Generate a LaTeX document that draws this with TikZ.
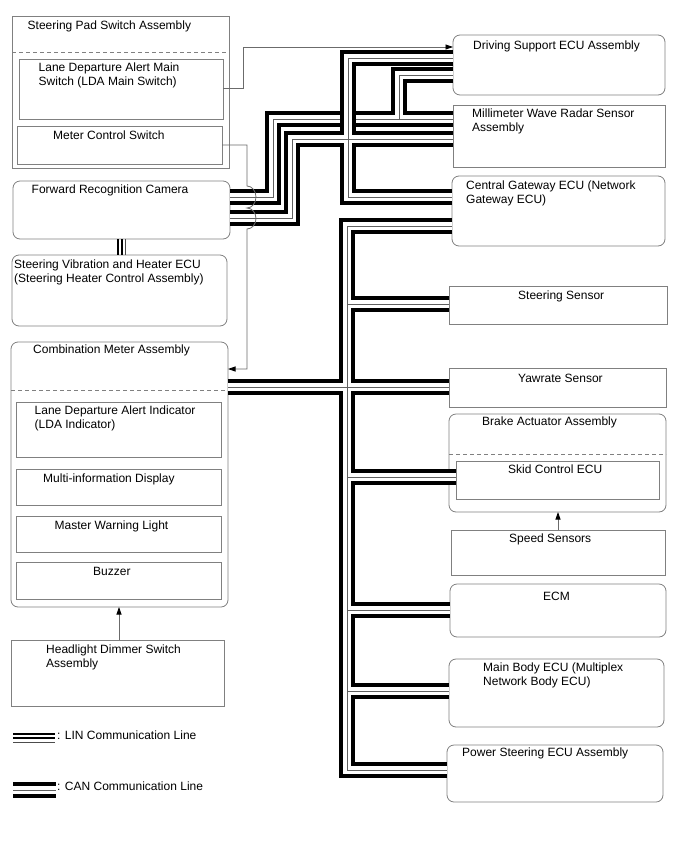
\documentclass[tikz,border=0pt]{standalone}
\usepackage{fontspec}
\setmainfont{Liberation Sans}
\usetikzlibrary{arrows.meta,calc}
\definecolor{boxgray}{gray}{0.5}
\definecolor{linegray}{gray}{0.42}
\newcommand\pairnet[1]{\draw[canA] #1; \draw[canB] #1; \draw[canC] #1;}
\newcommand\twol[2]{\vtop{\hbox{#1}\hbox{#2}}}
\begin{document}
\begin{tikzpicture}[x=1pt,y=-1pt,
  box/.style={draw=boxgray,line width=0.8pt,anchor=north west,inner sep=0pt,outer sep=0pt,fill=white},
  rbox/.style={box,rounded corners=7pt},
  lbl/.style={anchor=base west,inner sep=0pt,font=\fontsize{12}{14}\selectfont},
  dashsep/.style={draw=boxgray,line width=0.8pt,dash pattern=on 4pt off 3pt},
  thinarrow/.style={draw=linegray,line width=0.8pt,-{Triangle[length=7.5pt,width=5pt,fill=black,color=black]}},
  canA/.style={line width=16pt,draw=black,line join=miter,line cap=butt},
  canB/.style={line width=8.5pt,draw=white,line join=miter,line cap=butt},
  canC/.style={line width=1pt,draw=gray!75!black,line join=miter,line cap=butt},
  linthick/.style={line width=2.8pt,draw=black},
  linthin/.style={line width=1pt,draw=gray!60!black}]
\useasboundingbox (0,0) rectangle (688,852);
\fill[white] (0,0) rectangle (688,852);

% ---------- left column ----------
\node[box,minimum width=217pt,minimum height=152pt] (spsa) at (12,16) {};
\draw[dashsep] (spsa.west |- 0,52) -- (spsa.east |- 0,52);
\node[box,minimum width=204pt,minimum height=60pt] (ldams) at (19,59) {};
\node[box,minimum width=205pt,minimum height=38pt] (mcs) at (17,126) {};
\node[rbox,minimum width=217pt,minimum height=58pt] (cam) at (13,181) {};
\node[rbox,minimum width=215pt,minimum height=71pt] (svh) at (12,255) {};
\node[rbox,minimum width=217pt,minimum height=265pt] (cma) at (11,342) {};
\draw[dashsep] (cma.west |- 0,390) -- (cma.east |- 0,390);
\node[box,minimum width=205pt,minimum height=55pt] (ldai) at (16,402) {};
\node[box,minimum width=205pt,minimum height=36pt] (mid) at (16,469) {};
\node[box,minimum width=205pt,minimum height=36pt] (mwl) at (16,516) {};
\node[box,minimum width=205pt,minimum height=37pt] (buz) at (16,562) {};
\node[box,minimum width=213pt,minimum height=66pt] (hds) at (11,640) {};

% ---------- right column ----------
\node[rbox,minimum width=212pt,minimum height=60pt] (ds) at (453,35) {};
\node[box,minimum width=212pt,minimum height=62pt] (mwr) at (453,105) {};
\node[rbox,minimum width=213pt,minimum height=70pt] (gw) at (452,176) {};
\node[box,minimum width=218pt,minimum height=38pt] (ss) at (449,286) {};
\node[box,minimum width=217pt,minimum height=39pt] (yaw) at (449,368) {};
\node[rbox,minimum width=217pt,minimum height=98pt] (baa) at (449,414) {};
\draw[dashsep] (baa.west |- 0,454) -- (baa.east |- 0,454);
\node[box,minimum width=203pt,minimum height=38pt] (sce) at (456,461) {};
\node[box,minimum width=214pt,minimum height=45pt] (spd) at (451,530) {};
\node[rbox,minimum width=216pt,minimum height=53pt] (ecm) at (450,584) {};
\node[rbox,minimum width=215pt,minimum height=68pt] (mbe) at (449,659) {};
\node[rbox,minimum width=216pt,minimum height=57pt] (pse) at (447,745) {};

% ---------- labels ----------
\node[lbl] (t1) at (27.5,29) {Steering Pad Switch Assembly};
\node[lbl] (t2) at (38.5,71.5) {\twol{Lane Departure Alert Main}{Switch (LDA Main Switch)}};
\node[lbl] (t3) at (53,139.2) {Meter Control Switch};
\node[lbl] (t4) at (31.5,193.2) {Forward Recognition Camera};
\node[lbl] (t5) at (14,268.9) {\twol{Steering Vibration and Heater ECU}{(Steering Heater Control Assembly)}};
\node[lbl] (t6) at (33,353.2) {Combination Meter Assembly};
\node[lbl] (t7) at (34.5,414.9) {\twol{Lane Departure Alert Indicator}{(LDA Indicator)}};
\node[lbl] (t8) at (43,482.2) {Multi-information Display};
\node[lbl] (t9) at (54.5,529.9) {Master Warning Light};
\node[lbl] (t10) at (93,575.9) {Buzzer};
\node[lbl] (t11) at (46,653) {\twol{Headlight Dimmer Switch}{Assembly}};
\node[lbl] (t12) at (473,49) {Driving Support ECU Assembly};
\node[lbl] (t13) at (472,117) {\twol{Millimeter Wave Radar Sensor}{Assembly}};
\node[lbl] (t14) at (466,189) {\twol{Central Gateway ECU (Network}{Gateway ECU)}};
\node[lbl] (t15) at (518,299.9) {Steering Sensor};
\node[lbl] (t16) at (518,382.2) {Yawrate Sensor};
\node[lbl] (t17) at (482,425.5) {Brake Actuator Assembly};
\node[lbl] (t18) at (508,473.2) {Skid Control ECU};
\node[lbl] (t19) at (509,542.2) {Speed Sensors};
\node[lbl] (t20) at (543,600.5) {ECM};
\node[lbl] (t21) at (483,671.5) {\twol{Main Body ECU (Multiplex}{Network Body ECU)}};
\node[lbl] (t22) at (462,756.5) {Power Steering ECU Assembly};

% ---------- CAN networks ----------
% camera upper pair -> radar, with DS ECU branch
\pairnet{(cam.east |- 0,197) -- (273,197) -- (273,119) -- (mwr.west |- 0,119)
         (ds.west |- 0,75) -- (399,75) -- (399,119)}
% DS ECU -> gateway, camera lower pair, radar
\pairnet{(ds.west |- 0,58) -- (348,58) -- (348,197) -- (gw.west |- 0,197)
         (cam.east |- 0,218) -- (292,218) -- (292,139) -- (mwr.west |- 0,139)}
% main bus
\pairnet{(gw.west |- 0,226) -- (347,226) -- (347,770) -- (pse.west |- 0,770)
         (347,304) -- (ss.west |- 0,304)
         (cma.east |- 0,387) -- (yaw.west |- 0,387)
         (347,477) -- (sce.west |- 0,477)
         (347,610) -- (ecm.west |- 0,610)
         (347,691) -- (mbe.west |- 0,691)}

% ---------- LIN line camera - steering heater ECU ----------
\draw[linthick] (118,0 |- cam.south) -- (118,0 |- svh.north);
\draw[linthick] (122,0 |- cam.south) -- (122,0 |- svh.north);
\draw[linthin] (125.5,0 |- cam.south) -- (125.5,0 |- svh.north);

% ---------- thin signal lines ----------
\draw[thinarrow] (ldams.east |- 0,88) -- (243,88) -- (243,47) -- (ds.west |- 0,47);
\draw[thinarrow] (mcs.east |- 0,145) -- (247,145) -- (247,186)
   arc[start angle=-90,end angle=90,x radius=9,y radius=11]
   arc[start angle=-90,end angle=90,x radius=9,y radius=10.5]
   -- (247,369) -- (cma.east |- 0,369);
\draw[thinarrow] (spd.north) -- (spd.north |- baa.south);
\draw[thinarrow] (119,0 |- hds.north) -- (119,0 |- cma.south);

% ---------- legend ----------
\coordinate (linA) at (13,734);
\coordinate (linB) at (55,734);
\draw[linthick] (linA) -- (linB);
\draw[linthick] ($(linA)+(0,4)$) -- ($(linB)+(0,4)$);
\draw[linthin] ($(linA)+(0,8)$) -- ($(linB)+(0,8)$);
\node[lbl] (t23) at (57,739) {: LIN Communication Line};
\coordinate (canL) at (13,790);
\coordinate (canR) at (56,790);
\pairnet{(canL) -- (canR)}
\node[lbl] (t24) at (57,790) {: CAN Communication Line};
\end{tikzpicture}
\end{document}
